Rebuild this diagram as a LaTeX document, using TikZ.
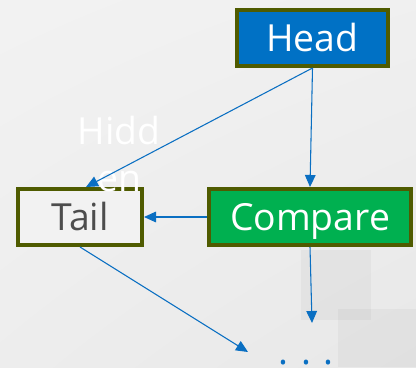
\documentclass[tikz,border=0pt]{standalone}
\usepackage{fontspec}
\setmainfont{Open Sans}
\usetikzlibrary{arrows.meta,shadings}
\definecolor{rim}{HTML}{4F5B00}
\definecolor{hd}{HTML}{0071C5}
\definecolor{cmpg}{HTML}{00B050}
\definecolor{tl}{HTML}{F2F2F2}
\definecolor{ink}{HTML}{4D4D4D}
\definecolor{ln}{HTML}{0A6FC2}

\begin{document}
\begin{tikzpicture}[
  x=0.75pt, y=-0.75pt,
  box/.style={draw=rim,line width=3pt,minimum height=42pt,inner sep=0pt,
    text height=20pt,text depth=0pt,font=\fontsize{28}{30}\selectfont},
  ar/.style={-{Triangle[length=9pt,width=8pt]},ln,line width=0.8pt},
]
% backdrop
\useasboundingbox (0,0) rectangle (416,367);
\shade[upper left=white!95!black,lower right=white!91!black,
  upper right=white!94!black,lower left=white!93!black] (0,0) rectangle (416,367);
\fill[black,opacity=0.03] (301,250) rectangle (371,320);
\fill[black,opacity=0.03] (338,309) rectangle (416,367);

\node[box,fill=hd,text=white,minimum width=113.25pt] (head) at (312.5,38) {Head};
\node[box,fill=cmpg,text=white,minimum width=151.5pt] (cmp) at (310,217) {Compare};
\node[box,fill=tl,text=ink,minimum width=93pt] (tail) at (80,217) {Tail};
\node[text=white,align=center,font=\fontsize{28}{35}\selectfont] (hid) at (119,154) {Hidd\\en};
\node[ln,anchor=base,inner sep=0pt,font=\fontsize{28}{30}\selectfont] (more) at (306,364.5) {.\,\,.\,\,.};
\coordinate (endA) at (312,323);
\coordinate (endB) at (248,352);

\draw[ar] (head.south) -- ([xshift=4.5pt]tail.north);
\draw[ar] (head.south) -- (cmp.north);
\draw[ar] (cmp.west) -- (tail.east);
\draw[ar] (tail.south) -- (endB);
\draw[ar] (cmp.south) -- (endA);
\end{tikzpicture}
\end{document}
